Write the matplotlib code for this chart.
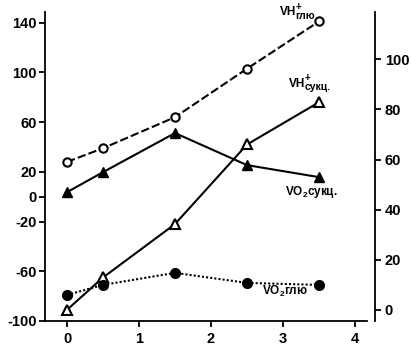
import matplotlib

matplotlib.use("Agg")
import matplotlib.pyplot as plt

plt.rcParams["font.family"] = ["Liberation Sans", "DejaVu Sans"]
plt.rcParams["mathtext.fontset"] = "custom"
plt.rcParams["mathtext.rm"] = "Liberation Sans"
plt.rcParams["mathtext.it"] = "Liberation Sans"
plt.rcParams["mathtext.bf"] = "Liberation Sans:bold"
plt.rcParams["axes.unicode_minus"] = False

# data
x = [0, 0.5, 1.5, 2.5, 3.5]
vh_glu = [28, 39, 64, 103, 141]          # left axis
vh_succ = [-91, -65, -22, 42, 76]        # left axis
vo2_succ = [47, 55, 70.6, 57.8, 53]      # right axis
vo2_glu = [6, 10, 14.8, 10.8, 10]        # right axis

left_ticks = [-100, -60, -20, 0, 20, 60, 100, 140]
right_ticks = [0, 20, 40, 60, 80, 100]
x_ticks = [0, 1, 2, 3, 4]

INK = "black"


def vh_label(ax, x0, y0, sub):
    # "VH" ending at x0, then "+" above and the subscript below
    kw = dict(color=INK, fontweight="bold", va="center", textcoords="offset points",
              annotation_clip=False)
    ax.annotate("VH", (x0, y0), xytext=(0, 0), ha="right", fontsize=8.5, **kw)
    ax.annotate("+", (x0, y0), xytext=(-0.5, 4), ha="left", fontsize=7, **kw)
    ax.annotate(sub, (x0, y0), xytext=(-0.3, -2.5), ha="left", fontsize=7.5, **kw)


fig = plt.figure(figsize=(4.11, 3.46), dpi=100)
ax = fig.add_axes([0.1095, 0.0723, 0.8029, 0.893])
ax2 = ax.twinx()

ax.set_xlim(-0.306, 4.278)
ax.set_ylim(-100, 148.6)
ax2.set_ylim(-4.4, 118.9)

ax.plot(x, vh_glu, color=INK, lw=1.5, dashes=[4, 1.5], marker="o", ms=6,
        mfc="white", mec=INK, mew=1.5, zorder=3)
ax.plot(x, vh_succ, color=INK, lw=1.5, marker="^", ms=7.5,
        mfc="white", mec=INK, mew=1.5, zorder=3)
ax2.plot(x, vo2_succ, color=INK, lw=1.5, marker="^", ms=7.5,
         mfc=INK, mec=INK, zorder=3)
ax2.plot(x, vo2_glu, color=INK, lw=1.5, ls=(0, (1, 1)), marker="o", ms=7,
         mfc=INK, mec=INK, zorder=3)

for a in (ax, ax2):
    a.spines["top"].set_visible(False)
ax.spines["right"].set_visible(False)
ax2.spines["left"].set_visible(False)
ax2.spines["bottom"].set_visible(False)
ax.spines["bottom"].set_bounds(-0.306, 4.17)
for s in ("left", "bottom"):
    ax.spines[s].set_linewidth(1.3)
ax2.spines["right"].set_linewidth(1.3)

ax.set_xticks(x_ticks)
ax.set_yticks(left_ticks)
ax2.set_yticks(right_ticks)
ax.tick_params(axis="both", labelsize=10.5, length=4, width=1.3, pad=2)
ax2.tick_params(axis="y", labelsize=10.5, length=4, width=1.3, pad=3)
ax.tick_params(axis="x", pad=4)
for t in ax.get_xticklabels() + ax.get_yticklabels() + ax2.get_yticklabels():
    t.set_fontweight("bold")

vh_label(ax, 3.18, 148.5, "глю")
vh_label(ax, 3.31, 91, "сукц.")
lab = dict(fontsize=8.5, ha="center", va="center", color=INK, fontweight="bold")
ax.text(3.39, 4, r"VO$_\mathbf{2}$сукц.", **lab)
ax.text(3.03, -76, r"VO$_\mathbf{2}$глю", **lab)

fig.savefig("out.png", dpi=100)
